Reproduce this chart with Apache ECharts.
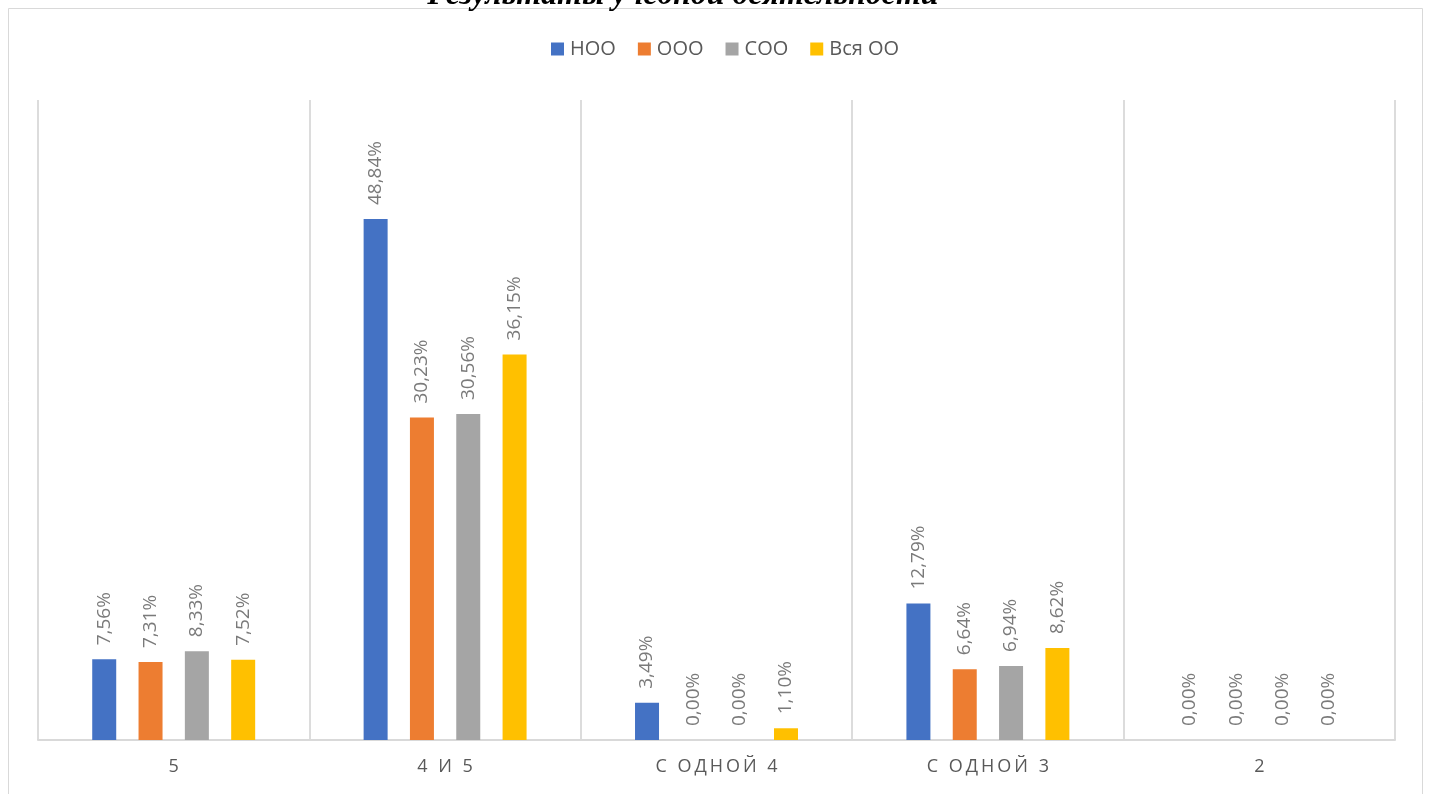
<!DOCTYPE html>
<html>
<head>
<meta charset="utf-8">
<script src="https://cdn.jsdelivr.net/npm/echarts@6/dist/echarts.min.js"></script>
<style>
html,body{margin:0;padding:0;background:#fff;}
#chart{width:1429px;height:794px;}
</style>
</head>
<body>
<div id="chart"></div>
<script>
var titleText = 'Результаты учебной деятельности';
var categories = ['5', '4 И 5', 'С ОДНОЙ 4', 'С ОДНОЙ 3', '2'];
var seriesNames = ['НОО', 'ООО', 'СОО', 'Вся ОО'];
var nooValues = [7.56, 48.84, 3.49, 12.79, 0.00];
var oooValues = [7.31, 30.23, 0.00, 6.64, 0.00];
var sooValues = [8.33, 30.56, 0.00, 6.94, 0.00];
var allValues = [7.52, 36.15, 1.10, 8.62, 0.00];
var colors = ['#4472C4', '#ED7D31', '#A5A5A5', '#FFC000'];

var FONT = 'Open Sans';
var seriesData = [nooValues, oooValues, sooValues, allValues];

var chart = echarts.init(document.getElementById('chart'), null, {renderer: 'canvas'});

var series = seriesData.map(function (vals, i) {
  return {
    name: seriesNames[i],
    type: 'bar',
    data: vals,
    barWidth: 24,
    barGap: '93%',
    itemStyle: {color: colors[i]},
    label: {
      show: true,
      position: 'top',
      rotate: 90,
      align: 'left',
      verticalAlign: 'middle',
      distance: 14,
      color: '#7a7a7a',
      fontFamily: FONT,
      fontSize: 19,
      formatter: function (p) { return p.value.toFixed(2).replace('.', ',') + '%'; }
    }
  };
});

chart.setOption({
  animation: false,
  backgroundColor: '#fff',
  color: colors,
  title: {
    text: titleText,
    left: 678,
    textAlign: 'center',
    top: -25,
    textStyle: {
      fontFamily: 'Liberation Serif',
      fontWeight: 'bold',
      fontStyle: 'italic',
      fontSize: 32,
      color: '#000',
      lineHeight: 32
    }
  },
  graphic: [{
    type: 'rect',
    shape: {x: 8.5, y: 8.5, width: 1414, height: 800},
    style: {fill: 'none', stroke: '#d9d9d9', lineWidth: 1},
    silent: true,
    z: -1
  }],
  legend: {
    data: seriesNames,
    left: 546,
    top: 34,
    itemWidth: 13,
    itemHeight: 13,
    itemGap: 22,
    icon: 'rect',
    textStyle: {fontFamily: FONT, fontSize: 20, color: '#595959', padding: [0, 0, 0, 1]}
  },
  grid: {left: 38, right: 34, top: 100, bottom: 54, containLabel: false},
  xAxis: {
    type: 'category',
    data: categories,
    axisLine: {show: true, lineStyle: {color: '#d9d9d9', width: 2}},
    axisTick: {show: false},
    splitLine: {show: true, lineStyle: {color: '#dcdcdc', width: 2}},
    axisLabel: {
      color: '#595959',
      fontFamily: FONT,
      fontSize: 18,
      margin: 18,
      formatter: function (v) { return v.split('').join('\u2009'); }
    }
  },
  yAxis: {
    type: 'value',
    min: 0,
    max: 60,
    show: false,
    splitLine: {show: false}
  },
  series: series
});
</script>
</body>
</html>
